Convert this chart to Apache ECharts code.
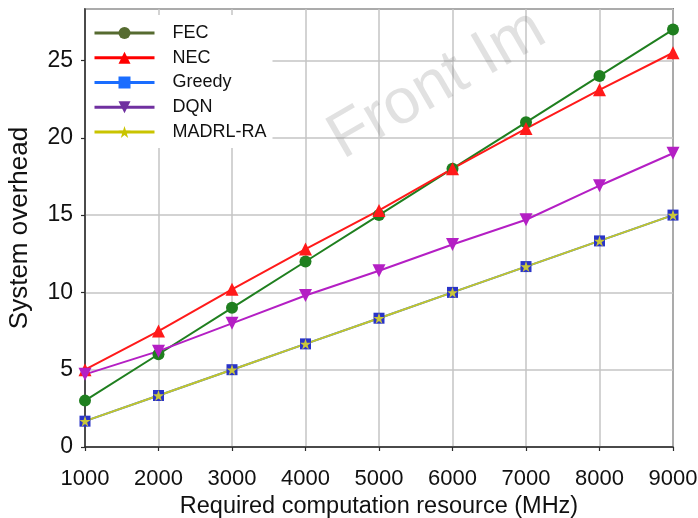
<!DOCTYPE html>
<html>
<head>
<meta charset="utf-8">
<title>System overhead vs required computation resource</title>
<script src="https://cdn.jsdelivr.net/npm/echarts@6/dist/echarts.min.js"></script>
<style>
  html, body { margin: 0; padding: 0; background: #ffffff; }
  #chart { width: 698px; height: 518px; }
</style>
</head>
<body>
<div id="chart"></div>
<script>
// Required computation resource (MHz)
const resources = [1000, 2000, 3000, 4000, 5000, 6000, 7000, 8000, 9000];

// System overhead for each scheme
const fec    = [3.0, 6.0, 9.0, 12.0, 15.0, 18.0, 21.0, 24.0, 27.0];
const nec    = [5.0, 7.5, 10.2, 12.8, 15.3, 18.0, 20.6, 23.1, 25.5];
const greedy = [1.67, 3.33, 5.0, 6.67, 8.33, 10.0, 11.67, 13.33, 15.0];
const dqn    = [4.7, 6.2, 8.0, 9.8, 11.4, 13.1, 14.7, 16.9, 19.0];
const madrl  = [1.67, 3.33, 5.0, 6.67, 8.33, 10.0, 11.67, 13.33, 15.0];

const seriesNames = ['FEC', 'NEC', 'Greedy', 'DQN', 'MADRL-RA'];

const FONT = 'Liberation Sans, Arial, sans-serif';

// five-pointed star marker
const STAR = 'path://M50,0 L61.8,35.1 L98.1,35.1 L68.8,56.7 L79.4,90.9 L50,69.1 L20.6,90.9 L31.2,56.7 L1.9,35.1 L38.2,35.1 Z';

function pairs(values) {
  return resources.map((r, i) => [r, values[i]]);
}

function lineSeries(name, values, color, symbol, size, extra) {
  return Object.assign({
    name: name,
    type: 'line',
    data: pairs(values),
    symbol: symbol,
    symbolSize: size,
    showAllSymbol: true,
    lineStyle: { color: color, width: 2 },
    itemStyle: { color: color },
    emphasis: { disabled: true },
    animation: false
  }, extra || {});
}

const chart = echarts.init(document.getElementById('chart'), null, { renderer: 'canvas' });

chart.setOption({
  backgroundColor: '#ffffff',
  grid: {
    left: 85, right: 25, top: 9, bottom: 71,
    containLabel: false,
    outerBoundsMode: 'none',
    show: true,
    borderColor: '#2b2b2b',
    borderWidth: 1.5,
    backgroundColor: 'transparent'
  },
  xAxis: {
    type: 'value',
    min: 1000,
    max: 9000,
    interval: 1000,
    name: 'Required computation resource (MHz)',
    nameLocation: 'middle',
    nameGap: 47,
    nameTextStyle: { color: '#111', fontSize: 23.5, fontFamily: FONT },
    axisLine: { show: true, lineStyle: { color: '#2b2b2b', width: 1.5 } },
    axisTick: { show: true, length: 4, lineStyle: { color: '#2b2b2b', width: 1.2 } },
    axisLabel: {
      color: '#111', fontSize: 22, fontFamily: FONT, margin: 21,
      formatter: (v) => String(v)
    },
    splitLine: { show: true, lineStyle: { color: '#c4c4c4', width: 1.5 } }
  },
  yAxis: {
    type: 'value',
    min: 0,
    max: 28.33,
    interval: 5,
    name: 'System overhead',
    nameLocation: 'middle',
    nameGap: 52,
    nameRotate: 90,
    nameTextStyle: { color: '#111', fontSize: 26, fontFamily: FONT },
    axisLine: { show: true, lineStyle: { color: '#2b2b2b', width: 1.5 } },
    axisTick: { show: true, length: 4, lineStyle: { color: '#2b2b2b', width: 1.2 } },
    axisLabel: { color: '#111', fontSize: 23, fontFamily: FONT, margin: 12, showMaxLabel: false },
    splitLine: { show: true, lineStyle: { color: '#c4c4c4', width: 1.5 } }
  },
  legend: {
    orient: 'vertical',
    left: 86,
    top: 15,
    padding: [9, 6, 7, 7],
    backgroundColor: '#ffffff',
    itemWidth: 60,
    itemHeight: 15,
    itemGap: 6.75,
    textStyle: { color: '#111', fontSize: 18, fontFamily: FONT, padding: [0, 0, 0, 13] },
    data: [
      { name: 'FEC', itemStyle: { color: '#566b30' }, lineStyle: { color: '#566b30', width: 3 } },
      { name: 'NEC', itemStyle: { color: '#ff0000' }, lineStyle: { color: '#ff0000', width: 3 } },
      { name: 'Greedy', itemStyle: { color: '#1a6dff' }, lineStyle: { color: '#1a6dff', width: 3 } },
      { name: 'DQN', itemStyle: { color: '#7030a0' }, lineStyle: { color: '#7030a0', width: 3 } },
      { name: 'MADRL-RA', itemStyle: { color: '#c9c400' }, lineStyle: { color: '#c9c400', width: 3 } }
    ],
    selectedMode: false
  },
  graphic: [
    {
      type: 'text',
      x: 350,
      y: 172,
      rotation: Math.PI / 6,
      silent: true,
      z: 100,
      style: {
        text: 'Front Im',
        font: '64px ' + FONT,
        fill: 'rgba(120,120,120,0.22)',
        align: 'left',
        verticalAlign: 'bottom'
      }
    }
  ],
  series: [
    lineSeries(seriesNames[0], fec, '#1f7f1f', 'circle', 12),
    lineSeries(seriesNames[1], nec, '#ff1a1a', 'triangle', 13),
    lineSeries(seriesNames[2], greedy, '#1f5fff', 'rect', 11, {
      itemStyle: { color: '#2a34c8' }
    }),
    lineSeries(seriesNames[3], dqn, '#b41fc4', 'triangle', 13, { symbolRotate: 180 }),
    lineSeries(seriesNames[4], madrl, '#c2c62c', STAR, 11, {
      itemStyle: { color: '#c9c63a' }
    })
  ]
});
</script>
</body>
</html>
